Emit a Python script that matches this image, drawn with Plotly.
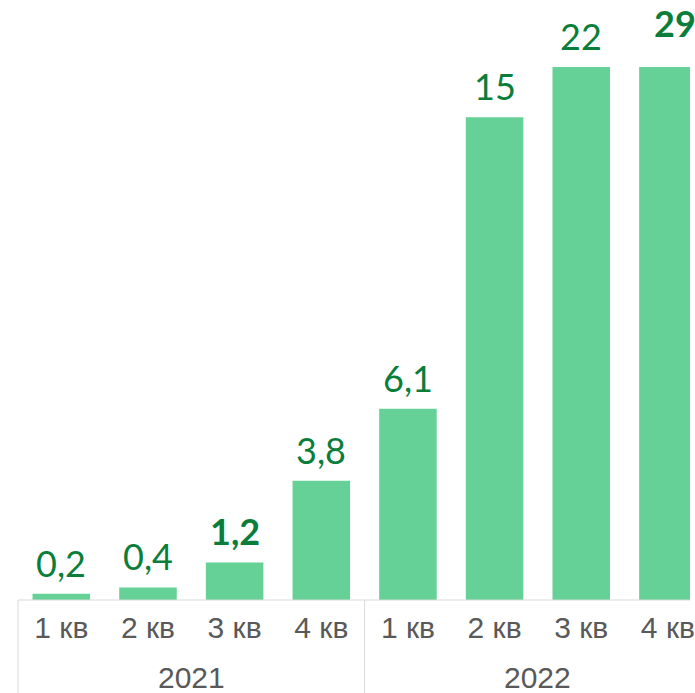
import numpy as np
import plotly.graph_objects as go

years = ["2021", "2021", "2021", "2021", "2022", "2022", "2022", "2022"]
quarters = ["1 кв", "2 кв", "3 кв", "4 кв", "1 кв", "2 кв", "3 кв", "4 кв"]
values = [0.2, 0.4, 1.2, 3.8, 6.1, 15.4, 22, 29]

Y_MAX = 17.0
BOLD_IDX = {2, 7}
EXTRA_YSHIFT = {7: 13}
EXTRA_XSHIFT = {7: 7}

BAR_COLOR = "#66D196"
LABEL_COLOR = "#0B7D3B"
TICK_COLOR = "#595959"
LINE_COLOR = "#D9D9D9"

W, H = 695, 693
ML, MT, MB = 16, 67, 93
PX_PER_CAT = 87.3
X0 = -0.5 - 2 / PX_PER_CAT
X1 = X0 + (W - ML) / PX_PER_CAT


def fmt(v):
    if v >= 10:
        return f"{v:.0f}"
    return f"{v:.1f}".replace(".", ",")


idx = np.arange(len(values))

fig = go.Figure()
fig.add_trace(go.Bar(
    x=idx,
    y=values,
    width=0.664,
    marker=dict(color=BAR_COLOR, line=dict(width=0)),
    hoverinfo="skip",
))

shown = np.minimum(np.array(values, dtype=float), Y_MAX)
for i, (v, s) in enumerate(zip(values, shown)):
    t = fmt(v)
    if i in BOLD_IDX:
        t = f"<b>{t}</b>"
    fig.add_annotation(
        x=int(i), y=float(s), xref="x", yref="y",
        text=t, showarrow=False, yanchor="bottom", xanchor="center",
        yshift=7 + EXTRA_YSHIFT.get(i, 0),
        xshift=EXTRA_XSHIFT.get(i, 0),
        font=dict(family="Lato", size=36, color=LABEL_COLOR),
    )

# year group labels and dividers
depth = MB / (H - MT - MB)
groups = []
for i, y in enumerate(years):
    if not groups or groups[-1][0] != y:
        groups.append([y, i, i])
    else:
        groups[-1][2] = i
for y, a, b in groups:
    fig.add_annotation(
        x=(a + b) / 2, y=0, xref="x", yref="paper",
        text=y, showarrow=False, yanchor="middle", xanchor="center",
        yshift=-77,
        font=dict(family="Liberation Sans", size=30, color=TICK_COLOR),
    )
    fig.add_shape(type="line", xref="x", yref="paper",
                  x0=a - 0.5, x1=a - 0.5, y0=0, y1=-depth,
                  line=dict(color=LINE_COLOR, width=1))
fig.add_shape(type="line", xref="x", yref="paper",
              x0=groups[-1][2] + 0.5, x1=groups[-1][2] + 0.5, y0=0, y1=-depth,
              line=dict(color=LINE_COLOR, width=1))
fig.add_shape(type="line", xref="x", yref="paper",
              x0=-0.5, x1=len(values) - 0.5, y0=0, y1=0,
              line=dict(color=LINE_COLOR, width=1))

fig.update_layout(
    width=W, height=H,
    margin=dict(l=ML, r=0, t=MT, b=MB),
    paper_bgcolor="white", plot_bgcolor="white",
    showlegend=False,
    xaxis=dict(
        range=[X0, X1],
        tickmode="array", tickvals=idx, ticktext=quarters,
        showline=False, ticks="", ticklabelstandoff=7,
        ticklabeloverflow="allow",
        tickfont=dict(family="Liberation Sans", size=30, color=TICK_COLOR),
        showgrid=False, zeroline=False,
    ),
    yaxis=dict(
        range=[0, Y_MAX], visible=False, showgrid=False, zeroline=False,
    ),
)

fig.write_html("out.html", config={"displayModeBar": False},
               post_script="document.body.style.margin='0';")
